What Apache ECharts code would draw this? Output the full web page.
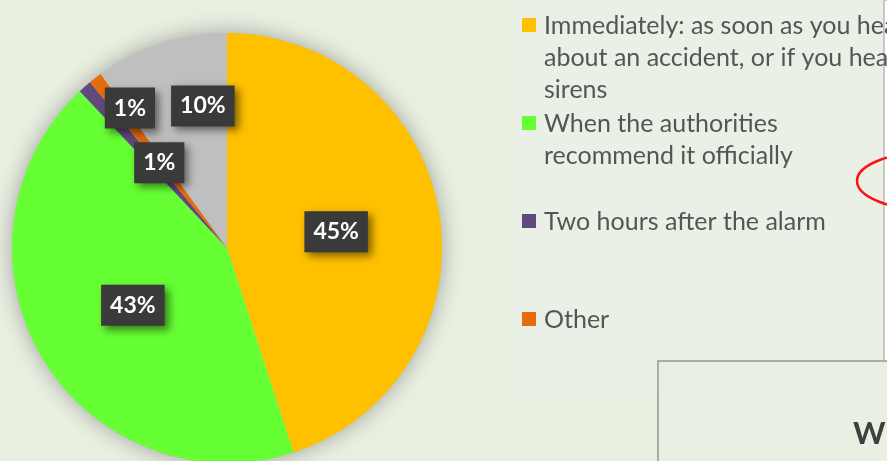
<!DOCTYPE html>
<html>
<head>
<meta charset="utf-8">
<script src="https://cdn.jsdelivr.net/npm/echarts@6/dist/echarts.min.js"></script>
<style>
  html, body { margin: 0; padding: 0; background: #E9EFE1; }
  #chart { width: 887px; height: 461px; }
</style>
</head>
<body>
<div id="chart"></div>
<script>
// Survey answers: when would you evacuate?
const categories = [
  'Immediately: as soon as you hear about an accident, or if you hear sirens',
  'When the authorities recommend it officially',
  'Two hours after the alarm',
  'Other',
  'No answer'
];
// Legend wording, broken into the lines it is shown on
const legendLines = [
  ['Immediately: as soon as you hear', 'about an accident, or if you hear', 'sirens'],
  ['When the authorities', 'recommend it officially'],
  ['Two hours after the alarm'],
  ['Other']
];
const shares = [45, 43, 1, 1, 10];            // percent of respondents
const sliceColors = ['#FFC000', '#66FF33', '#604A7B', '#E46C0A', '#BFBFBF'];
// nudges for the value boxes of the narrow slices (px)
const labelShift = [[0, 1], [1, 1], [-24, -57], [0, 2], [10, -37]];

const chart = echarts.init(document.getElementById('chart'), null, { renderer: 'canvas' });

const pieCenter = [227, 248];
const pieRadius = 215;

const legendGraphics = [];
const legendTop = 26, legendStep = 98, lineH = 32;
legendLines.forEach((lines, i) => {
  const mid = legendTop + i * legendStep;
  legendGraphics.push({
    type: 'rect', silent: true,
    shape: { x: 522, y: mid - 8, width: 14, height: 14 },
    style: { fill: sliceColors[i] }
  });
  legendGraphics.push({
    type: 'text', silent: true,
    style: {
      x: 544, y: mid - lineH / 2,
      text: lines.join('\n'),
      verticalAlign: 'top', align: 'left',
      lineHeight: lineH,
      font: '25px Lato, "Open Sans", sans-serif',
      fill: '#555555'
    }
  });
});

const option = {
  backgroundColor: '#E9EFE1',
  animation: false,
  graphic: [
    // slightly lighter panel behind the legend
    { type: 'rect', silent: true, z: -10,
      shape: { x: 515, y: 0, width: 372, height: 395 },
      style: { fill: '#EBF0E6' } },
    // neighbouring slide content at the right edge
    { type: 'rect', silent: true, z: -5,
      shape: { x: 884, y: 0, width: 10, height: 377 },
      style: { fill: '#FFFFFF', stroke: '#B8BBB4', lineWidth: 1.5 } },
    { type: 'ellipse', silent: true, z: 5,
      shape: { cx: 937, cy: 181, rx: 80, ry: 30 },
      style: { fill: 'none', stroke: '#FF1010', lineWidth: 2.5 } },
    { type: 'rect', silent: true, z: -4,
      shape: { x: 658, y: 361, width: 260, height: 130 },
      style: { fill: '#EAEFE3', stroke: '#A9AEA2', lineWidth: 2 } },
    { type: 'text', silent: true, z: 6,
      style: { x: 853, y: 418, text: 'Wh', verticalAlign: 'alphabetic', align: 'left',
        font: 'bold 31px Lato, "Open Sans", sans-serif', fill: '#3F3F3F' } }
  ].concat(legendGraphics),
  series: [
    {
      // soft drop shadow under the whole pie
      type: 'pie', silent: true, z: 1,
      center: pieCenter, radius: pieRadius,
      label: { show: false }, labelLine: { show: false },
      itemStyle: { color: '#BFBFBF', shadowBlur: 22, shadowColor: 'rgba(0,0,0,0.32)' },
      data: [{ value: 1, name: '' }]
    },
    {
      type: 'pie', z: 2,
      center: pieCenter, radius: pieRadius,
      startAngle: 90, clockwise: true,
      avoidLabelOverlap: false,
      itemStyle: { borderWidth: 0 },
      label: {
        show: true,
        position: 'inside',
        formatter: p => p.value + '%',
        color: '#FFFFFF',
        fontFamily: 'Lato, "Open Sans", sans-serif',
        fontWeight: 'bold',
        fontSize: 23,
        lineHeight: 25,
        backgroundColor: '#3A3A3A',
        padding: [8, 9],
        shadowColor: 'rgba(0,0,0,0.5)',
        shadowBlur: 8,
        shadowOffsetX: 4,
        shadowOffsetY: 4
      },
      labelLine: { show: false },
      labelLayout: params => {
        const s = labelShift[params.dataIndex] || [0, 0];
        return { dx: s[0], dy: s[1] };
      },
      emphasis: { disabled: true },
      data: categories.map((name, i) => ({
        name, value: shares[i], itemStyle: { color: sliceColors[i] }
      }))
    }
  ]
};

chart.setOption(option);
</script>
</body>
</html>
